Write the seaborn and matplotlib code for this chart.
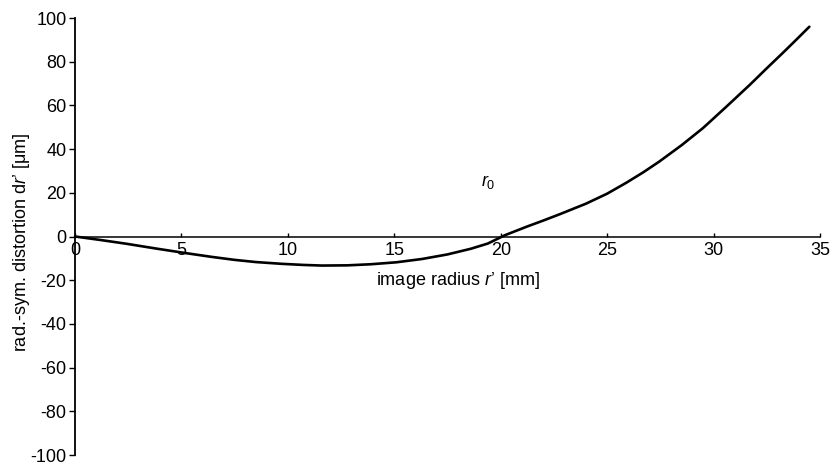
import matplotlib
matplotlib.use("Agg")
import matplotlib.pyplot as plt
import seaborn as sns
import pandas as pd

# image radius r' [mm]
radius = [0, 1.2, 2.4, 3.8, 5.2, 6.4, 7.5, 8.5, 9.7, 10.7, 11.6, 12.8, 13.9, 15.1,
          16.3, 17.5, 18.6, 19.4, 20.2, 21.25, 22.0, 22.8, 24.0, 25.0, 25.9, 26.7,
          27.45, 28.5, 29.5, 30.6, 31.7, 32.5, 33.25, 33.9, 34.5]
# radial-symmetric distortion dr' [um]
distortion = [0, -1.6, -3.3, -5.5, -7.6, -9.3, -10.7, -11.7, -12.5, -13.0, -13.3, -13.2,
              -12.7, -11.8, -10.3, -8.2, -5.6, -3.2, 0.6, 4.6, 7.3, 10.3, 15.0, 19.6,
              24.6, 29.4, 34.3, 41.8, 49.6, 59.4, 69.4, 77.0, 84.0, 90.2, 96.0]

x_ticks = [0, 5, 10, 15, 20, 25, 30, 35]
y_ticks = [-100, -80, -60, -40, -20, 0, 20, 40, 60, 80, 100]

sns.set_theme(style="white")
plt.rcParams["font.family"] = ["Liberation Sans", "DejaVu Sans"]
plt.rcParams["mathtext.fontset"] = "custom"
plt.rcParams["mathtext.rm"] = "Liberation Sans"
plt.rcParams["mathtext.it"] = "Liberation Sans:italic"

fig = plt.figure(figsize=(8.35, 4.67), dpi=100)
ax = fig.add_axes([75 / 835, 1 - 455 / 467, (820 - 75) / 835, (455 - 18) / 467])

df = pd.DataFrame({"r": radius, "dr": distortion})
sns.lineplot(data=df, x="r", y="dr", ax=ax, color="black", linewidth=1.9,
             clip_on=False, sort=True)

ax.set_xlim(0, 35)
ax.set_ylim(-100, 100)
ax.set_xticks(x_ticks)
ax.set_yticks(y_ticks)
ax.set_xticklabels([str(v) for v in x_ticks])
ax.set_yticklabels([str(v) for v in y_ticks])

for s in ["top", "right"]:
    ax.spines[s].set_visible(False)
ax.spines["bottom"].set_position(("data", 0))
ax.spines["bottom"].set_linewidth(1.1)
ax.spines["left"].set_linewidth(1.3)
for s in ["bottom", "left"]:
    ax.spines[s].set_color("black")

ax.tick_params(axis="y", direction="out", length=4, width=1, color="black", pad=2,
               left=True, labelsize=13, labelcolor="black")
ax.tick_params(axis="x", direction="in", length=3, width=1, color="black", pad=4,
               bottom=True, labelsize=13, labelcolor="black")

ax.set_xlabel("")
ax.set_ylabel("")

fig.text(22 / 835, 1 - 242 / 467, "rad.-sym. distortion d$\\mathit{r}$’ [μm]",
         rotation=90, ha="center", va="center", fontsize=13, color="black")
ax.text(18.0, -20, "image radius $\\mathit{r}$’ [mm]", ha="center", va="center",
        fontsize=13, color="black")
ax.text(19.4, 25, "$r_0$", ha="center", va="center", fontsize=13, color="black")

fig.savefig("out.png", dpi=100)
